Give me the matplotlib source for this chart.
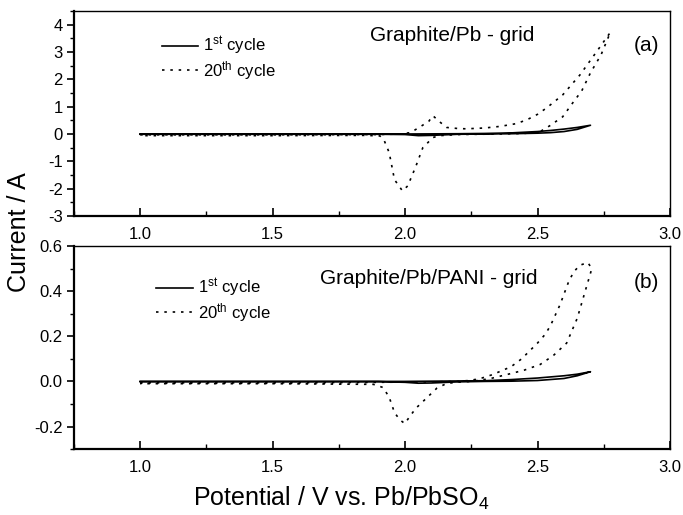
import matplotlib
matplotlib.use("Agg")
import matplotlib.pyplot as plt
from matplotlib.ticker import MultipleLocator, FormatStrFormatter

plt.rcParams['font.family'] = ['Liberation Sans', 'DejaVu Sans']
plt.rcParams['mathtext.default'] = 'regular'
plt.rcParams['axes.unicode_minus'] = False

# ---- panel (a): Graphite/Pb - grid ----
# 1st cycle, forward (anodic) and reverse scans
a1_fwd_v = [1.0, 1.5, 2.0, 2.2, 2.3, 2.4, 2.5, 2.55, 2.6, 2.65, 2.7]
a1_fwd_i = [0.0, 0.0, 0.0, 0.01, 0.02, 0.04, 0.09, 0.13, 0.18, 0.24, 0.32]
a1_rev_v = [2.7, 2.65, 2.6, 2.55, 2.5, 2.4, 2.3, 2.2, 2.1, 2.05, 2.0, 1.9, 1.5, 1.0]
a1_rev_i = [0.32, 0.17, 0.09, 0.05, 0.03, 0.01, 0.0, -0.01, -0.05, -0.06, -0.02, -0.01, -0.01, -0.01]

# 20th cycle
a20_fwd_v = [1.0, 1.5, 1.9, 1.98, 2.02, 2.055, 2.09, 2.105, 2.13, 2.157, 2.2, 2.23,
             2.3, 2.36, 2.42, 2.46, 2.5, 2.535, 2.595, 2.66, 2.72, 2.775]
a20_fwd_i = [-0.03, -0.03, -0.02, 0.0, 0.05, 0.25, 0.47, 0.67, 0.45, 0.24, 0.2, 0.19,
             0.22, 0.28, 0.38, 0.52, 0.72, 0.96, 1.43, 2.16, 2.97, 3.72]
a20_rev_v = [2.775, 2.74, 2.70, 2.667, 2.633, 2.595, 2.546, 2.51, 2.45, 2.35, 2.2, 2.13,
             2.105, 2.067, 2.04, 2.01, 1.99, 1.96, 1.94, 1.92, 1.905, 1.85, 1.5, 1.0]
a20_rev_i = [3.72, 2.9, 2.24, 1.58, 1.14, 0.63, 0.30, 0.09, 0.02, 0.0, -0.02, -0.06,
             -0.13, -0.5, -1.2, -1.9, -2.08, -1.67, -0.68, -0.21, -0.07, -0.05, -0.06, -0.06]

# ---- panel (b): Graphite/Pb/PANI - grid ----
b1_fwd_v = [1.0, 1.5, 2.0, 2.3, 2.4, 2.5, 2.6, 2.65, 2.7]
b1_fwd_i = [0.0, 0.0, 0.0, 0.003, 0.008, 0.015, 0.025, 0.032, 0.043]
b1_rev_v = [2.7, 2.65, 2.6, 2.5, 2.4, 2.3, 2.2, 2.1, 2.05, 2.0, 1.9, 1.5, 1.0]
b1_rev_i = [0.043, 0.025, 0.013, 0.004, 0.001, 0.0, -0.002, -0.007, -0.008, -0.004, -0.001, -0.001, -0.001]

b20_fwd_v = [1.0, 1.5, 1.9, 2.1, 2.2, 2.25, 2.29, 2.33, 2.37, 2.40, 2.44, 2.47, 2.50,
             2.53, 2.55, 2.585, 2.62, 2.64, 2.66, 2.69, 2.705]
b20_fwd_i = [-0.006, -0.006, -0.004, -0.002, 0.0, 0.005, 0.015, 0.03, 0.05, 0.065, 0.1,
             0.135, 0.17, 0.21, 0.25, 0.34, 0.45, 0.49, 0.515, 0.527, 0.50]
b20_rev_v = [2.705, 2.68, 2.65, 2.61, 2.56, 2.51, 2.45, 2.40, 2.32, 2.25, 2.2, 2.157,
             2.12, 2.08, 2.04, 2.015, 1.999, 1.98, 1.96, 1.94, 1.917, 1.88, 1.5, 1.0]
b20_rev_i = [0.50, 0.40, 0.28, 0.17, 0.115, 0.075, 0.05, 0.035, 0.012, 0.0, -0.003, -0.009,
             -0.03, -0.075, -0.12, -0.16, -0.187, -0.17, -0.138, -0.07, -0.027, -0.013, -0.01, -0.01]

dotted = (0, (1.5, 3.5))

fig = plt.figure(figsize=(6.83, 5.15), dpi=100)
ax_a = fig.add_axes([0.1083, 0.5806, 0.8726, 0.398])
ax_b = fig.add_axes([0.1083, 0.128, 0.8726, 0.3942])

panels = [
    (ax_a, (0.133, 0.925), a1_fwd_v, a1_fwd_i, a1_rev_v, a1_rev_i,
     a20_fwd_v, a20_fwd_i, a20_rev_v, a20_rev_i),
    (ax_b, (0.124, 0.89), b1_fwd_v, b1_fwd_i, b1_rev_v, b1_rev_i,
     b20_fwd_v, b20_fwd_i, b20_rev_v, b20_rev_i),
]

for ax, leg_pos, v1f, i1f, v1r, i1r, v20f, i20f, v20r, i20r in panels:
    ax.plot(v1f + v1r[1:], i1f + i1r[1:], color='black', lw=1.2, label=r'1$^{st}$ cycle')
    ax.plot(v20f + v20r[1:], i20f + i20r[1:], color='black', lw=1.2, ls=dotted,
            label=r'20$^{th}$ cycle')
    ax.set_xlim(0.75, 3.0)
    ax.xaxis.set_major_locator(MultipleLocator(0.5))
    ax.xaxis.set_minor_locator(MultipleLocator(0.25))
    ax.xaxis.set_major_formatter(FormatStrFormatter('%.1f'))
    ax.tick_params(axis='x', which='major', direction='in', length=6, width=1.2,
                   labelsize=12, pad=8)
    ax.tick_params(axis='x', which='minor', direction='in', length=3.5, width=1.0)
    ax.tick_params(axis='y', which='major', direction='out', length=5, width=1.2,
                   labelsize=12, pad=3)
    ax.tick_params(axis='y', which='minor', direction='out', length=3, width=1.0)
    for side in ['left', 'bottom']:
        ax.spines[side].set_linewidth(1.6)
    for side in ['top', 'right']:
        ax.spines[side].set_linewidth(1.0)
    ax.legend(loc='upper left', frameon=False, fontsize=12, handlelength=2.2,
              handletextpad=0.3, labelspacing=0.1, borderpad=0,
              bbox_to_anchor=leg_pos)

ax_a.set_ylim(-3, 4.5)
ax_a.yaxis.set_major_locator(MultipleLocator(1))
ax_a.yaxis.set_minor_locator(MultipleLocator(0.5))
ax_a.text(0.635, 0.88, 'Graphite/Pb - grid', transform=ax_a.transAxes,
          fontsize=15, ha='center', va='center')
ax_a.text(0.96, 0.83, '(a)', transform=ax_a.transAxes, fontsize=15,
          ha='center', va='center')

ax_b.set_ylim(-0.3, 0.6)
ax_b.yaxis.set_major_locator(MultipleLocator(0.2))
ax_b.yaxis.set_minor_locator(MultipleLocator(0.1))
ax_b.yaxis.set_major_formatter(FormatStrFormatter('%.1f'))
ax_b.text(0.595, 0.84, 'Graphite/Pb/PANI - grid', transform=ax_b.transAxes,
          fontsize=15, ha='center', va='center')
ax_b.text(0.96, 0.82, '(b)', transform=ax_b.transAxes, fontsize=15,
          ha='center', va='center')

fig.text(0.028, 0.55, 'Current / A', rotation=90, fontsize=18, ha='center', va='center')
fig.text(0.50, 0.032, r'Potential / V vs. Pb/PbSO$_4$', fontsize=18, ha='center', va='center')

fig.savefig('out.png', dpi=100)
